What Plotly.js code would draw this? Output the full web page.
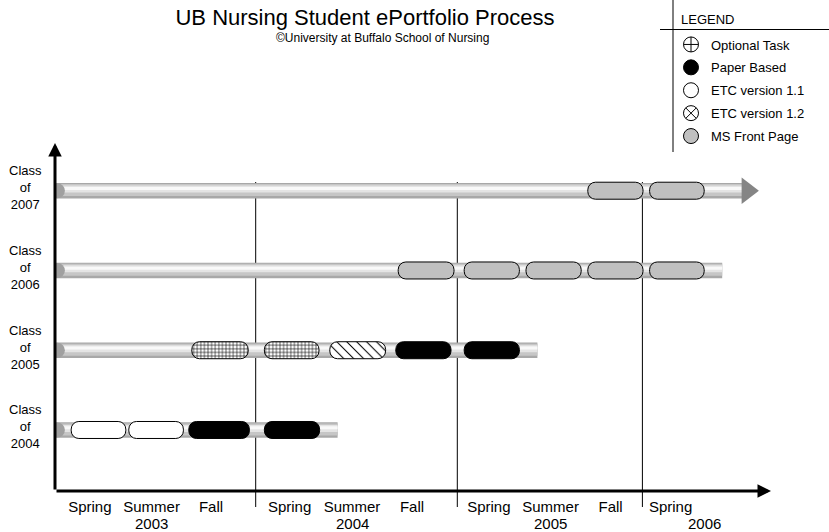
<!DOCTYPE html>
<html><head><meta charset="utf-8">
<script src="https://cdn.plot.ly/plotly-3.0.1.min.js"></script>
<style>html,body{margin:0;padding:0;background:#fff}#chart{width:829px;height:532px}</style>
</head><body><div id="chart"></div>
<script>
// ---------- data ----------
const classes = ['Class of 2004', 'Class of 2005', 'Class of 2006', 'Class of 2007'];
const classLabels = ['Class<br>of<br>2004', 'Class<br>of<br>2005', 'Class<br>of<br>2006', 'Class<br>of<br>2007'];
const tubeStart = [0, 0, 0, 0];
const tubeEnd = [4.71, 8.04, 11.12, 11.47];
const hasArrow = [false, false, false, true];

const taskClass = [
  'Class of 2004', 'Class of 2004', 'Class of 2004', 'Class of 2004',
  'Class of 2005', 'Class of 2005', 'Class of 2005', 'Class of 2005', 'Class of 2005',
  'Class of 2006', 'Class of 2006', 'Class of 2006', 'Class of 2006', 'Class of 2006',
  'Class of 2007', 'Class of 2007'
];
const taskStart = [0.27, 1.23, 2.23, 3.49, 2.28, 3.49, 4.58, 5.68, 6.82, 5.72, 6.82, 7.85, 8.88, 9.91, 8.88, 9.91];
const taskEnd   = [1.18, 2.14, 3.24, 4.41, 3.22, 4.40, 5.51, 6.60, 7.74, 6.65, 7.74, 8.77, 9.80, 10.82, 9.80, 10.82];
const taskType = [
  'ETC version 1.1', 'ETC version 1.1', 'Paper Based', 'Paper Based',
  'Optional Task', 'Optional Task', 'ETC version 1.2', 'Paper Based', 'Paper Based',
  'MS Front Page', 'MS Front Page', 'MS Front Page', 'MS Front Page', 'MS Front Page',
  'MS Front Page', 'MS Front Page'
];
const taskTypes = ['Optional Task', 'Paper Based', 'ETC version 1.1', 'ETC version 1.2', 'MS Front Page'];

const semesterPos = [0.58, 1.61, 2.60, 3.91, 4.95, 5.95, 7.23, 8.26, 9.26, 10.26];
const semesterText = ['Spring', 'Summer', 'Fall', 'Spring', 'Summer', 'Fall', 'Spring', 'Summer', 'Fall', 'Spring'];
const yearPos = [1.60, 4.95, 8.25, 10.82];
const yearText = ['2003', '2004', '2005', '2006'];
const yearBreaks = [3.345, 6.705, 9.79];

// ---------- styles ----------
const ROW = 79.77; // pixels per class row
const typeStyle = {
  'Optional Task': {bar: {color: '#ffffff', pattern: {shape: '+', fgcolor: '#000000', bgcolor: '#ffffff', size: 3.6, solidity: 0.3}}, sym: 'circle-cross', col: '#ffffff'},
  'Paper Based': {bar: {color: '#000000'}, sym: 'circle', col: '#000000'},
  'ETC version 1.1': {bar: {color: '#ffffff'}, sym: 'circle', col: '#ffffff'},
  'ETC version 1.2': {bar: {color: '#ffffff', pattern: {shape: '\\', fgcolor: '#000000', bgcolor: '#ffffff', size: 7, solidity: 0.15}}, sym: 'circle-x', col: '#ffffff'},
  'MS Front Page': {bar: {color: '#c0c0c0'}, sym: 'circle', col: '#c0c0c0'}
};
const tubeLayers = [
  {h: 15.5, shift: 0, color: '#a8a8a8'},
  {h: 12, shift: 0.6, color: '#c6c6c6'},
  {h: 7, shift: 1.6, color: '#e4e4e4'},
  {h: 3, shift: 2.2, color: '#f9f9f9'}
];

const traces = [];
tubeLayers.forEach(L => {
  traces.push({
    type: 'bar', orientation: 'h', y: classes, base: tubeStart,
    x: tubeEnd.map((e, i) => e - tubeStart[i]),
    width: L.h / ROW, offset: -L.h / ROW / 2 + L.shift / ROW,
    marker: {color: L.color, line: {width: 0}},
    showlegend: false, hoverinfo: 'skip'
  });
});
// rounded left caps of the tubes
traces.push({
  type: 'scatter', mode: 'markers', x: tubeStart.map(s => s + 0.04), y: classes,
  marker: {symbol: 'circle', size: 15, color: '#a0a0a0'}, cliponaxis: true,
  showlegend: false, hoverinfo: 'skip'
});
// arrow head on open-ended tube
traces.push({
  type: 'scatter', mode: 'markers',
  x: tubeEnd.filter((e, i) => hasArrow[i]).map(e => e + 0.07),
  y: classes.filter((c, i) => hasArrow[i]),
  marker: {symbol: 'triangle-right', size: 23, color: '#858585'},
  showlegend: false, hoverinfo: 'skip'
});
// task pills
taskTypes.forEach(t => {
  const idx = taskType.map((v, i) => v === t ? i : -1).filter(i => i >= 0);
  const st = typeStyle[t];
  traces.push({
    type: 'bar', orientation: 'h', name: t,
    y: idx.map(i => taskClass[i]),
    base: idx.map(i => taskStart[i]),
    x: idx.map(i => taskEnd[i] - taskStart[i]),
    width: 17 / ROW,
    marker: Object.assign({}, st.bar, {line: {color: '#000000', width: 1}, cornerradius: '45%'}),
    showlegend: false
  });
});
// legend entries
taskTypes.forEach((t, k) => {
  const st = typeStyle[t];
  traces.push({
    type: 'scatter', mode: 'markers', name: t, x: [null], y: [null], legendgroup: 'g' + k,
    marker: {symbol: st.sym, size: 15, color: st.col, line: {color: '#000000', width: 1}}
  });
});

// ---------- layout ----------
const plotL = 55, plotT = 149, plotW = 720, plotH = 342;
const px2x = p => (p - plotL) / plotW;
const py2y = p => (plotT + plotH - p) / plotH;

const shapes = [];
yearBreaks.forEach(b => shapes.push({
  type: 'line', xref: 'x', yref: 'paper', x0: b, x1: b, y0: py2y(507), y1: py2y(182),
  line: {color: '#000000', width: 1}, layer: 'below'
}));
shapes.push({type: 'line', xref: 'paper', yref: 'paper', x0: px2x(673), x1: px2x(673), y0: py2y(0), y1: py2y(152), line: {color: '#000', width: 1}});
shapes.push({type: 'line', xref: 'paper', yref: 'paper', x0: px2x(660), x1: px2x(829), y0: py2y(29.5), y1: py2y(29.5), line: {color: '#000', width: 1}});

const annotations = [];
classes.forEach((c, i) => annotations.push({
  xref: 'paper', yref: 'y', x: px2x(26), y: c, text: classLabels[i], showarrow: false,
  xanchor: 'center', yanchor: 'middle', align: 'center', font: {size: 13}, yshift: 3
}));
yearText.forEach((t, i) => annotations.push({
  xref: 'x', yref: 'paper', x: yearPos[i], y: py2y(523), text: t, showarrow: false,
  xanchor: 'center', yanchor: 'middle', font: {size: 15}
}));
annotations.push({
  xref: 'paper', yref: 'paper', x: px2x(382), y: py2y(38.5), text: '©University at Buffalo School of Nursing',
  showarrow: false, xanchor: 'center', yanchor: 'middle', font: {size: 12}
});
annotations.push({
  xref: 'paper', yref: 'paper', x: px2x(679), y: py2y(19.5), text: 'LEGEND',
  showarrow: false, xanchor: 'left', yanchor: 'middle', font: {size: 13}
});
// axis arrows
annotations.push({xref: 'paper', yref: 'paper', x: px2x(771), y: 0, ax: -(771 - plotL), ay: 0, axref: 'pixel', ayref: 'pixel',
  text: '', showarrow: true, arrowhead: 2, arrowsize: 0.9, arrowwidth: 3, arrowcolor: '#000', standoff: 0});
annotations.push({xref: 'paper', yref: 'paper', x: 0, y: py2y(143), ax: 0, ay: (plotT + plotH - 143), axref: 'pixel', ayref: 'pixel',
  text: '', showarrow: true, arrowhead: 2, arrowsize: 0.9, arrowwidth: 3, arrowcolor: '#000', standoff: 0});

const layout = {
  width: 829, height: 532,
  margin: {l: plotL, r: 829 - plotL - plotW, t: plotT, b: 532 - plotT - plotH, pad: 0},
  paper_bgcolor: '#ffffff', plot_bgcolor: '#ffffff',
  font: {family: 'Liberation Sans, Arial, Helvetica, sans-serif', color: '#000000'},
  barmode: 'overlay',
  title: {text: 'UB Nursing Student ePortfolio Process', font: {size: 22, color: '#000'},
    x: 365 / 829, xref: 'container', xanchor: 'center', y: 1 - 17 / 532, yref: 'container', yanchor: 'middle'},
  xaxis: {range: [0, 12], tickmode: 'array', tickvals: semesterPos, ticktext: semesterText, tickfont: {size: 15},
    showgrid: false, zeroline: false, showline: false, ticks: '', ticklabelstandoff: 5},
  yaxis: {type: 'category', categoryorder: 'array', categoryarray: classes, range: [-0.765, 3.523],
    showticklabels: false, showgrid: false, zeroline: false, showline: false},
  legend: {x: px2x(671), xanchor: 'left', y: py2y(29.5), yanchor: 'top', font: {size: 13},
    traceorder: 'grouped', tracegroupgap: 3, bgcolor: 'rgba(0,0,0,0)', itemsizing: 'trace'},
  shapes: shapes,
  annotations: annotations
};

Plotly.newPlot('chart', traces, layout, {displayModeBar: false, staticPlot: true});
</script>
</body></html>
